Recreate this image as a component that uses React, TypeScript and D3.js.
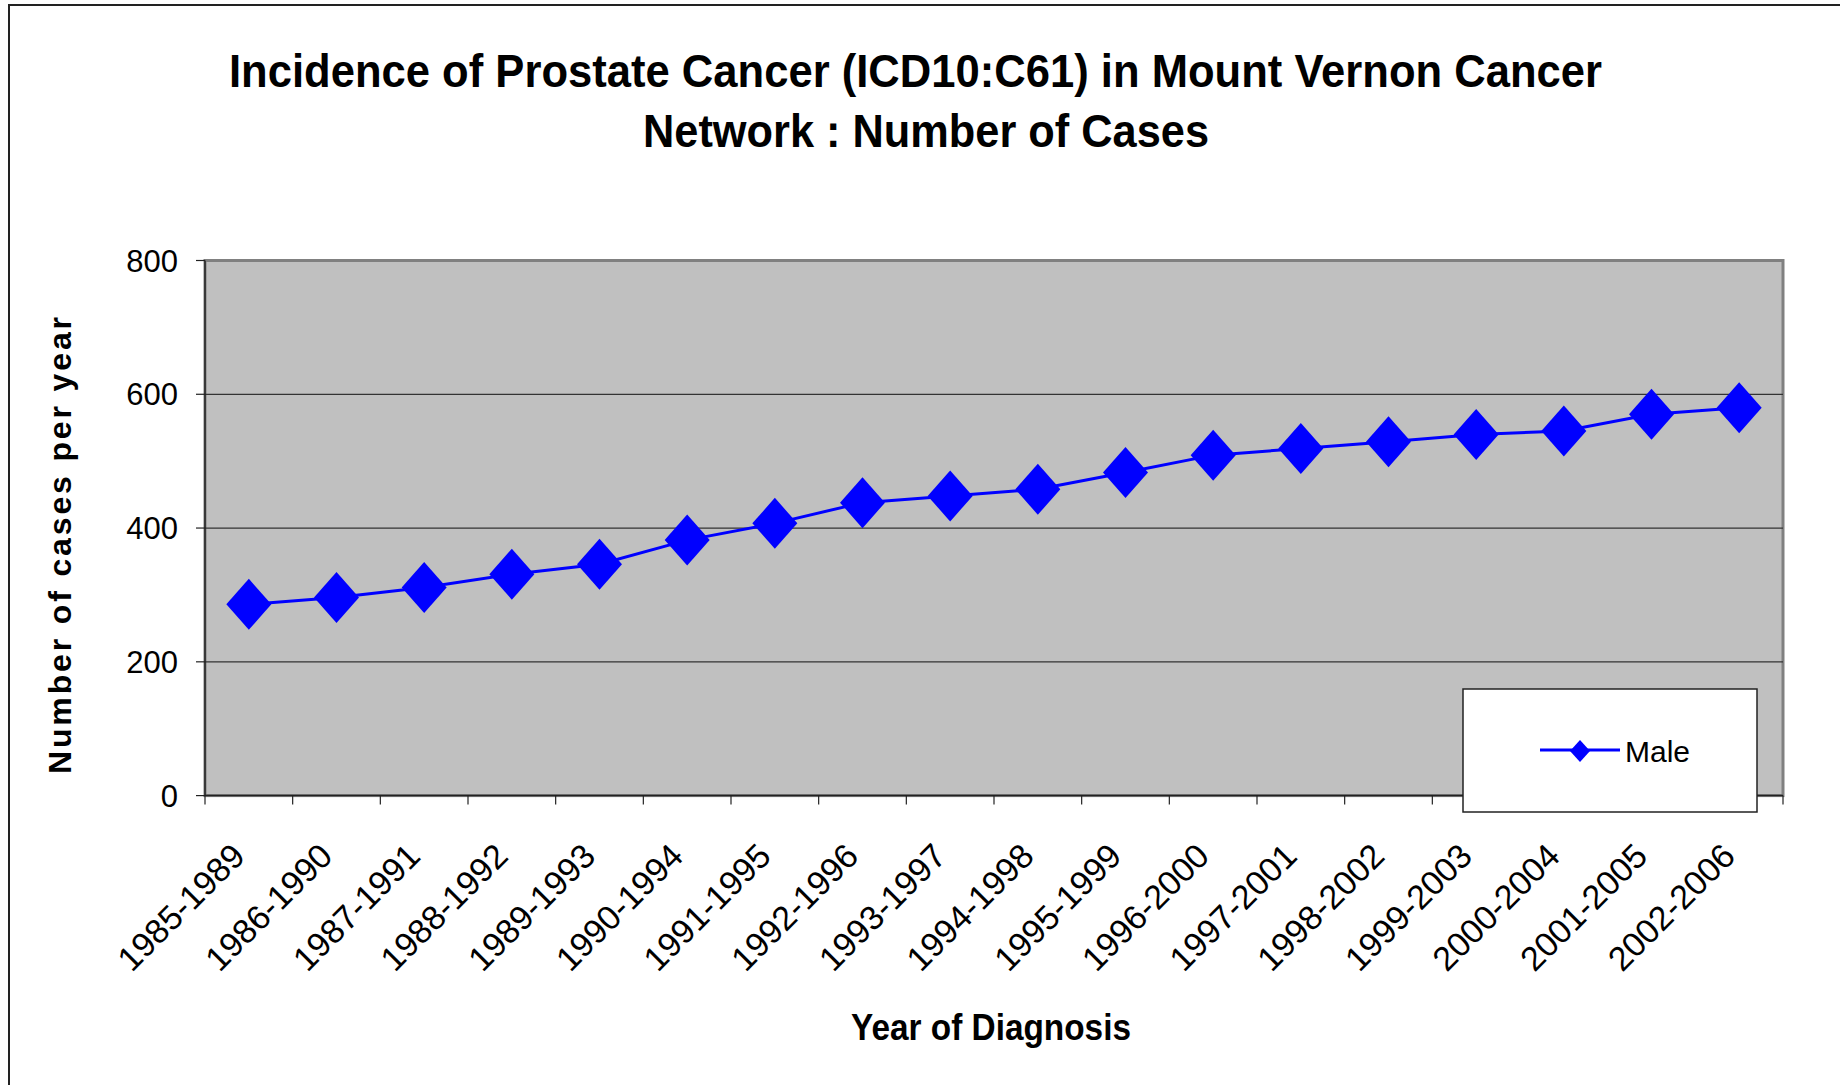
import React from 'react';
import * as d3 from 'd3';

const periods = [
  '1985-1989', '1986-1990', '1987-1991', '1988-1992', '1989-1993', '1990-1994',
  '1991-1995', '1992-1996', '1993-1997', '1994-1998', '1995-1999', '1996-2000',
  '1997-2001', '1998-2002', '1999-2003', '2000-2004', '2001-2005', '2002-2006',
];
const maleCases = [286, 296, 311, 331, 346, 382, 407, 438, 448, 458, 483, 509, 519, 529, 540, 545, 570, 580];
const yTicks = [0, 200, 400, 600, 800];

const W = 1840;
const H = 1085;
const plot = { left: 205, right: 1783, top: 260.5, bottom: 795.6 };
const FONT = '"Liberation Sans", Arial, sans-serif';
const NARROW = '"Liberation Sans Narrow", "Liberation Sans", Arial, sans-serif';
const BLUE = '#0000FF';

const diamond = (cx: number, cy: number, hw: number, hh: number) =>
  `M${cx},${cy - hh}L${cx + hw},${cy}L${cx},${cy + hh}L${cx - hw},${cy}Z`;

export default function App() {
  const x = d3.scaleBand<string>().domain(periods).range([plot.left, plot.right]).padding(0);
  const y = d3.scaleLinear().domain([0, 800]).range([plot.bottom, plot.top]);
  const cx = (p: string) => (x(p) as number) + x.bandwidth() / 2;

  const line = d3.line<number>()
    .x((d, i) => cx(periods[i]))
    .y(d => y(d));

  // tick marks sit on the band boundaries
  const xTickPos = periods.map(p => x(p) as number).concat([plot.right]);

  return (
    <svg width={W} height={H} style={{ position: 'absolute', left: 0, top: 0, background: '#fff' }}>
      <rect x={9} y={5} width={W} height={H} fill="#fff" stroke="#222" strokeWidth={2} />

      {/* title */}
      <text x={915.5} y={87} textAnchor="middle" fontFamily={NARROW} fontWeight="bold" fontSize={47}
        textLength={1373} lengthAdjust="spacingAndGlyphs">
        Incidence of Prostate Cancer (ICD10:C61) in Mount Vernon Cancer
      </text>
      <text x={926} y={147} textAnchor="middle" fontFamily={NARROW} fontWeight="bold" fontSize={47}
        textLength={566} lengthAdjust="spacingAndGlyphs">
        Network : Number of Cases
      </text>

      {/* plot area */}
      <rect x={plot.left} y={plot.top} width={plot.right - plot.left} height={plot.bottom - plot.top}
        fill="#C0C0C0" stroke="#808080" strokeWidth={3} />
      {yTicks.filter(t => t > 0 && t < 800).map(t => (
        <line key={t} x1={plot.left} x2={plot.right} y1={y(t)} y2={y(t)} stroke="#333" strokeWidth={1.2} />
      ))}

      {/* axes */}
      <line x1={plot.left} x2={plot.left} y1={plot.top} y2={plot.bottom} stroke="#222" strokeWidth={1.5} />
      <line x1={plot.left} x2={plot.right} y1={plot.bottom} y2={plot.bottom} stroke="#222" strokeWidth={1.5} />
      {yTicks.map(t => (
        <g key={t}>
          <line x1={plot.left - 9} x2={plot.left} y1={y(t)} y2={y(t)} stroke="#222" strokeWidth={1.2} />
          <text x={178} y={y(t)} dy="0.36em" textAnchor="end" fontFamily={FONT} fontSize={31}>{t}</text>
        </g>
      ))}
      {xTickPos.map((px, i) => (
        <line key={i} x1={px} x2={px} y1={plot.bottom} y2={plot.bottom + 9} stroke="#222" strokeWidth={1.2} />
      ))}
      {periods.map(p => (
        <text key={p} transform={`translate(${cx(p) - 2},${858}) rotate(-45)`} textAnchor="end"
          fontFamily={FONT} fontSize={34}>{p}</text>
      ))}

      {/* series */}
      <path d={line(maleCases) as string} fill="none" stroke={BLUE} strokeWidth={3} />
      {maleCases.map((v, i) => (
        <path key={i} d={diamond(cx(periods[i]), y(v), 22.5, 25.5)} fill={BLUE} />
      ))}

      {/* axis titles */}
      <text transform="translate(71,545.5) rotate(-90)" textAnchor="middle" fontFamily={FONT}
        fontWeight="bold" fontSize={32} textLength={457} lengthAdjust="spacing">
        Number of cases per year
      </text>
      <text x={991} y={1040} textAnchor="middle" fontFamily={NARROW} fontWeight="bold" fontSize={37}
        textLength={280} lengthAdjust="spacingAndGlyphs">
        Year of Diagnosis
      </text>

      {/* legend */}
      <rect x={1463} y={689} width={294} height={123} fill="#fff" stroke="#222" strokeWidth={1.5} />
      <line x1={1540} x2={1620} y1={750} y2={750} stroke={BLUE} strokeWidth={3} />
      <path d={diamond(1580, 751, 10, 11)} fill={BLUE} />
      <text x={1625} y={762} fontFamily={FONT} fontSize={30}>Male</text>
    </svg>
  );
}
